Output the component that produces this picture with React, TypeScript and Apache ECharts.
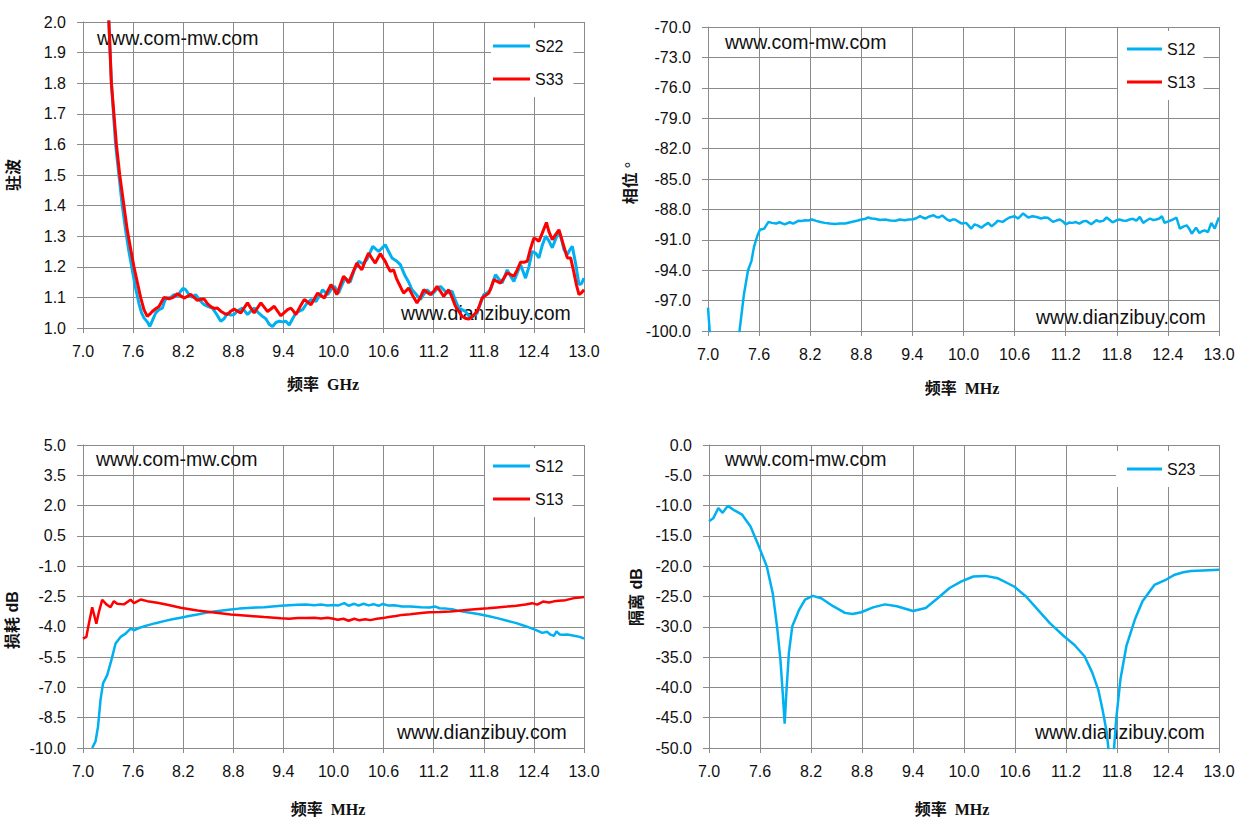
import { useEffect, useRef } from "react";
import * as echarts from "echarts";

// ---- data: [frequency, value] pairs ----
const vswrS22: [number, number][] = [
  [7.25, 2.3], [7.31, 2.0], [7.34, 1.8], [7.39, 1.6], [7.43, 1.5], [7.47, 1.4], [7.51, 1.32], [7.55, 1.25],
  [7.59, 1.19], [7.63, 1.13], [7.67, 1.08], [7.7, 1.05], [7.73, 1.033], [7.77, 1.02], [7.8, 1.005], [7.84, 1.03],
  [7.87, 1.049], [7.91, 1.06], [7.95, 1.065], [7.98, 1.09], [8.01, 1.098], [8.05, 1.1], [8.09, 1.109], [8.13, 1.105],
  [8.17, 1.12], [8.2, 1.13], [8.23, 1.125], [8.27, 1.109], [8.31, 1.1], [8.35, 1.109], [8.4, 1.09], [8.45, 1.076],
  [8.5, 1.07], [8.55, 1.065], [8.6, 1.045], [8.65, 1.022], [8.69, 1.03], [8.73, 1.049], [8.77, 1.042], [8.81, 1.044],
  [8.86, 1.058], [8.91, 1.065], [8.97, 1.044], [9.01, 1.055], [9.05, 1.065], [9.1, 1.05], [9.15, 1.038], [9.19, 1.03],
  [9.23, 1.012], [9.27, 1.005], [9.31, 1.018], [9.35, 1.022], [9.39, 1.02], [9.43, 1.022], [9.47, 1.01], [9.51, 1.03],
  [9.55, 1.049], [9.59, 1.055], [9.63, 1.06], [9.68, 1.08], [9.73, 1.093], [9.79, 1.087], [9.83, 1.105], [9.87, 1.125],
  [9.93, 1.109], [9.97, 1.125], [10.01, 1.136], [10.06, 1.114], [10.1, 1.14], [10.14, 1.163], [10.2, 1.15], [10.25, 1.19],
  [10.3, 1.218], [10.35, 1.21], [10.4, 1.223], [10.47, 1.267], [10.54, 1.25], [10.62, 1.272], [10.66, 1.25], [10.7, 1.229],
  [10.75, 1.22], [10.8, 1.207], [10.86, 1.169], [10.9, 1.15], [10.94, 1.125], [10.99, 1.11], [11.04, 1.093], [11.08, 1.11],
  [11.12, 1.125], [11.18, 1.109], [11.23, 1.125], [11.28, 1.136], [11.32, 1.125], [11.36, 1.114], [11.42, 1.12], [11.46, 1.09],
  [11.5, 1.065], [11.54, 1.06], [11.58, 1.054], [11.64, 1.033], [11.68, 1.04], [11.72, 1.049], [11.76, 1.08], [11.8, 1.109],
  [11.84, 1.115], [11.88, 1.125], [11.94, 1.174], [11.98, 1.16], [12.02, 1.147], [12.08, 1.19], [12.12, 1.17], [12.16, 1.152],
  [12.2, 1.18], [12.24, 1.207], [12.3, 1.163], [12.34, 1.2], [12.38, 1.25], [12.42, 1.245], [12.46, 1.229], [12.5, 1.27],
  [12.54, 1.3], [12.58, 1.285], [12.62, 1.262], [12.66, 1.29], [12.7, 1.316], [12.73, 1.29], [12.76, 1.256], [12.8, 1.24],
  [12.83, 1.255], [12.86, 1.267], [12.9, 1.21], [12.94, 1.142], [12.97, 1.145], [13.0, 1.163],
];

const vswrS33: [number, number][] = [
  [7.26, 2.3], [7.31, 2.0], [7.34, 1.8], [7.4, 1.6], [7.44, 1.5], [7.48, 1.42], [7.53, 1.32], [7.57, 1.26],
  [7.61, 1.2], [7.65, 1.15], [7.69, 1.1], [7.73, 1.06], [7.77, 1.038], [7.8, 1.045], [7.83, 1.054], [7.87, 1.063],
  [7.91, 1.07], [7.94, 1.085], [7.97, 1.1], [8.0, 1.098], [8.03, 1.095], [8.08, 1.1], [8.13, 1.112], [8.17, 1.105],
  [8.21, 1.098], [8.25, 1.103], [8.29, 1.11], [8.33, 1.1], [8.37, 1.09], [8.41, 1.094], [8.45, 1.095], [8.49, 1.08],
  [8.53, 1.07], [8.57, 1.064], [8.61, 1.065], [8.65, 1.055], [8.69, 1.048], [8.73, 1.044], [8.77, 1.055], [8.81, 1.062],
  [8.85, 1.055], [8.89, 1.049], [8.93, 1.066], [8.97, 1.082], [9.01, 1.065], [9.05, 1.049], [9.09, 1.066], [9.13, 1.082],
  [9.17, 1.068], [9.21, 1.054], [9.25, 1.062], [9.29, 1.071], [9.33, 1.055], [9.37, 1.04], [9.41, 1.05], [9.45, 1.06],
  [9.49, 1.065], [9.52, 1.055], [9.55, 1.044], [9.6, 1.07], [9.65, 1.093], [9.69, 1.085], [9.73, 1.076], [9.77, 1.095],
  [9.81, 1.114], [9.85, 1.106], [9.89, 1.098], [9.93, 1.12], [9.97, 1.142], [10.01, 1.125], [10.04, 1.109], [10.08, 1.14],
  [10.12, 1.169], [10.15, 1.16], [10.18, 1.147], [10.23, 1.18], [10.28, 1.212], [10.31, 1.2], [10.34, 1.19], [10.38, 1.22],
  [10.42, 1.245], [10.46, 1.228], [10.5, 1.212], [10.53, 1.228], [10.56, 1.243], [10.59, 1.23], [10.62, 1.218], [10.65, 1.2],
  [10.68, 1.185], [10.72, 1.19], [10.75, 1.165], [10.78, 1.147], [10.81, 1.13], [10.84, 1.114], [10.87, 1.122], [10.9, 1.131],
  [10.95, 1.105], [11.0, 1.082], [11.04, 1.1], [11.08, 1.125], [11.12, 1.117], [11.16, 1.109], [11.2, 1.12], [11.24, 1.136],
  [11.28, 1.12], [11.32, 1.103], [11.35, 1.115], [11.38, 1.125], [11.42, 1.1], [11.46, 1.071], [11.5, 1.055], [11.54, 1.038],
  [11.58, 1.032], [11.62, 1.029], [11.67, 1.04], [11.72, 1.054], [11.75, 1.075], [11.78, 1.098], [11.82, 1.106], [11.86, 1.114],
  [11.89, 1.135], [11.92, 1.158], [11.96, 1.152], [12.0, 1.147], [12.04, 1.163], [12.08, 1.18], [12.12, 1.175], [12.16, 1.169],
  [12.2, 1.19], [12.24, 1.215], [12.28, 1.215], [12.32, 1.218], [12.36, 1.26], [12.4, 1.294], [12.43, 1.29], [12.46, 1.283],
  [12.5, 1.31], [12.55, 1.345], [12.58, 1.315], [12.62, 1.289], [12.66, 1.305], [12.7, 1.321], [12.75, 1.275], [12.8, 1.229],
  [12.84, 1.229], [12.88, 1.18], [12.91, 1.14], [12.94, 1.109], [12.97, 1.115], [13.0, 1.125],
];

const phaseS12: [number, number][] = [
  [7.0, -97.7], [7.02, -100], [7.03, -104], [7.34, -104], [7.37, -100], [7.42, -96.5], [7.47, -94.0], [7.51, -93.1],
  [7.54, -91.7], [7.58, -90.6], [7.61, -90.0], [7.66, -89.9], [7.71, -89.23], [7.75, -89.33], [7.8, -89.4], [7.84, -89.27],
  [7.9, -89.47], [7.96, -89.27], [8.0, -89.4], [8.06, -89.13], [8.1, -89.15], [8.14, -89.07], [8.18, -89.1], [8.22, -89.0],
  [8.27, -89.13], [8.32, -89.25], [8.37, -89.33], [8.43, -89.4], [8.49, -89.43], [8.55, -89.38], [8.61, -89.4], [8.66, -89.3],
  [8.71, -89.2], [8.76, -89.1], [8.8, -89.0], [8.84, -88.95], [8.88, -88.8], [8.92, -88.9], [8.96, -88.93], [9.02, -89.05],
  [9.08, -89.0], [9.14, -89.1], [9.2, -89.13], [9.25, -89.0], [9.31, -89.07], [9.36, -89.0], [9.41, -88.97], [9.45, -88.85],
  [9.49, -88.67], [9.52, -88.8], [9.55, -88.9], [9.6, -88.7], [9.65, -88.57], [9.68, -88.75], [9.71, -88.8], [9.75, -88.6],
  [9.8, -88.95], [9.84, -89.13], [9.87, -89.0], [9.9, -89.0], [9.94, -89.2], [9.98, -89.4], [10.03, -89.33], [10.06, -89.6],
  [10.09, -89.9], [10.13, -89.47], [10.17, -89.6], [10.21, -89.8], [10.25, -89.55], [10.29, -89.33], [10.33, -89.67], [10.37, -89.4],
  [10.4, -89.13], [10.46, -89.23], [10.5, -89.0], [10.54, -88.8], [10.6, -88.67], [10.64, -88.9], [10.7, -88.4], [10.73, -88.6],
  [10.76, -88.8], [10.81, -88.67], [10.86, -88.75], [10.91, -88.9], [10.95, -88.8], [10.99, -88.83], [11.05, -89.23], [11.09, -89.1],
  [11.13, -89.0], [11.17, -89.2], [11.2, -89.47], [11.24, -89.3], [11.28, -89.33], [11.32, -89.25], [11.36, -89.4], [11.4, -89.2],
  [11.44, -89.13], [11.5, -89.47], [11.56, -89.07], [11.6, -89.2], [11.64, -89.13], [11.68, -88.8], [11.75, -89.27], [11.79, -89.1],
  [11.83, -89.0], [11.87, -89.1], [11.91, -89.13], [11.95, -89.0], [11.99, -88.93], [12.03, -89.1], [12.07, -88.73], [12.11, -89.33],
  [12.15, -89.1], [12.19, -88.9], [12.23, -89.05], [12.26, -89.0], [12.3, -88.9], [12.33, -88.67], [12.36, -89.33], [12.42, -89.13],
  [12.46, -89.0], [12.5, -88.8], [12.54, -89.9], [12.58, -89.7], [12.62, -89.57], [12.65, -89.9], [12.68, -90.4], [12.73, -89.8],
  [12.77, -90.33], [12.8, -90.15], [12.83, -90.07], [12.87, -90.23], [12.91, -89.33], [12.95, -89.9], [12.98, -89.2], [13.0, -88.8],
];

const phaseS13: [number, number][] = [];

const lossS12: [number, number][] = [
  [7.11, -10.0], [7.15, -9.67], [7.18, -8.94], [7.21, -7.62], [7.24, -6.8], [7.29, -6.39], [7.34, -5.65], [7.39, -4.83],
  [7.45, -4.5], [7.51, -4.34], [7.57, -4.09], [7.61, -4.17], [7.67, -4.06], [7.77, -3.93], [7.87, -3.82], [7.97, -3.72],
  [8.07, -3.63], [8.17, -3.55], [8.27, -3.47], [8.37, -3.39], [8.47, -3.31], [8.57, -3.24], [8.67, -3.19], [8.77, -3.14],
  [8.87, -3.1], [8.97, -3.07], [9.07, -3.05], [9.17, -3.03], [9.27, -2.99], [9.37, -2.96], [9.47, -2.93], [9.57, -2.91],
  [9.67, -2.9], [9.77, -2.93], [9.85, -2.9], [9.93, -2.94], [10.0, -2.92], [10.05, -2.95], [10.13, -2.83], [10.18, -2.96],
  [10.25, -2.86], [10.3, -2.95], [10.36, -2.86], [10.42, -2.94], [10.48, -2.88], [10.54, -2.96], [10.59, -2.87], [10.66, -2.95],
  [10.73, -2.93], [10.82, -2.99], [10.92, -3.0], [11.05, -3.03], [11.15, -3.04], [11.22, -3.0], [11.27, -3.08], [11.35, -3.1],
  [11.42, -3.13], [11.5, -3.21], [11.6, -3.28], [11.73, -3.37], [11.85, -3.47], [11.96, -3.57], [12.08, -3.7], [12.19, -3.82],
  [12.3, -3.97], [12.42, -4.15], [12.5, -4.3], [12.56, -4.25], [12.6, -4.39], [12.64, -4.45], [12.67, -4.23], [12.71, -4.38],
  [12.74, -4.39], [12.8, -4.38], [12.88, -4.44], [12.95, -4.5], [13.0, -4.59],
];

const lossS13: [number, number][] = [
  [7.0, -4.59], [7.04, -4.5], [7.07, -3.85], [7.11, -3.03], [7.16, -3.85], [7.19, -3.27], [7.23, -2.66], [7.28, -2.89],
  [7.33, -3.03], [7.37, -2.73], [7.41, -2.86], [7.49, -2.89], [7.57, -2.66], [7.61, -2.83], [7.69, -2.65], [7.77, -2.73],
  [7.89, -2.81], [8.01, -2.91], [8.17, -3.06], [8.37, -3.19], [8.57, -3.29], [8.77, -3.39], [8.97, -3.45], [9.17, -3.52],
  [9.37, -3.58], [9.47, -3.6], [9.57, -3.57], [9.67, -3.56], [9.77, -3.55], [9.85, -3.59], [9.93, -3.55], [10.0, -3.6],
  [10.05, -3.65], [10.12, -3.6], [10.18, -3.7], [10.25, -3.6], [10.31, -3.68], [10.38, -3.63], [10.44, -3.67], [10.52, -3.6],
  [10.59, -3.57], [10.66, -3.52], [10.75, -3.47], [10.82, -3.41], [10.92, -3.38], [11.05, -3.32], [11.15, -3.28], [11.27, -3.27],
  [11.4, -3.24], [11.5, -3.21], [11.62, -3.16], [11.73, -3.12], [11.85, -3.08], [11.96, -3.04], [12.08, -3.0], [12.19, -2.96],
  [12.3, -2.9], [12.38, -2.83], [12.44, -2.9], [12.51, -2.75], [12.58, -2.8], [12.64, -2.74], [12.7, -2.71], [12.78, -2.68],
  [12.88, -2.58], [12.95, -2.55], [13.0, -2.53],
];

const isoS23: [number, number][] = [
  [7.0, -12.6], [7.05, -12.1], [7.11, -10.4], [7.16, -11.2], [7.22, -10.05], [7.3, -10.8], [7.39, -11.5], [7.49, -13.5],
  [7.58, -16.5], [7.68, -20.05], [7.75, -24.45], [7.8, -29.9], [7.84, -35.4], [7.87, -41.5], [7.89, -46.0], [7.91, -40.9],
  [7.94, -34.3], [7.98, -29.9], [8.06, -27.2], [8.13, -25.5], [8.22, -24.9], [8.32, -25.3], [8.46, -26.6], [8.6, -27.7],
  [8.69, -27.9], [8.79, -27.6], [8.93, -26.8], [9.07, -26.3], [9.21, -26.6], [9.4, -27.4], [9.55, -26.9], [9.69, -25.3],
  [9.83, -23.6], [9.97, -22.5], [10.11, -21.7], [10.25, -21.6], [10.4, -22.0], [10.59, -23.35], [10.73, -25.0], [10.87, -27.2],
  [11.01, -29.4], [11.18, -31.6], [11.3, -33.0], [11.42, -34.9], [11.51, -37.6], [11.58, -40.4], [11.63, -43.7], [11.68, -47.5],
  [11.72, -53], [11.75, -53], [11.79, -45.3], [11.84, -38.7], [11.91, -33.2], [12.01, -28.8], [12.1, -25.8], [12.24, -23.1],
  [12.38, -22.2], [12.48, -21.4], [12.58, -21.0], [12.67, -20.8], [12.81, -20.7], [13.0, -20.6],
];

const GRID = "#8a8a8a";
const BLUE = "#00b0f0";
const RED = "#ff0000";
const FONT = "'Liberation Sans', Arial, sans-serif";
const TITLE_SERIF = "bold 16px 'Liberation Serif', 'Noto Sans CJK SC', serif";
const TITLE_SANS = "bold 16px 'Liberation Sans', 'Noto Sans CJK SC', sans-serif";

const grids = [
  { left: 83, top: 22, width: 501, height: 306 },
  { left: 708, top: 27, width: 511, height: 304 },
  { left: 83, top: 445, width: 501, height: 303 },
  { left: 709, top: 445, width: 510, height: 303 },
];

const yRanges = [
  { min: 1, max: 2, interval: 0.1 },
  { min: -100, max: -70, interval: 3 },
  { min: -10, max: 5, interval: 1.5 },
  { min: -50, max: 0, interval: 5 },
];

function xAxisFor(i: number) {
  return {
    type: "value",
    gridIndex: i,
    min: 7,
    max: 13,
    interval: 0.6,
    axisLine: { show: true, onZero: false, lineStyle: { color: GRID, width: 1 } },
    axisTick: { show: true, length: 5, lineStyle: { color: GRID } },
    axisLabel: {
      margin: 15,
      fontSize: 16,
      color: "#111",
      fontFamily: FONT,
      formatter: (v: number) => v.toFixed(1),
    },
    splitLine: { show: true, lineStyle: { color: GRID, width: 1 } },
  };
}

function yAxisFor(i: number) {
  return {
    type: "value",
    gridIndex: i,
    ...yRanges[i],
    axisLine: { show: true, onZero: false, lineStyle: { color: GRID, width: 1 } },
    axisTick: { show: true, length: 6, lineStyle: { color: GRID } },
    axisLabel: {
      margin: 17,
      fontSize: 16,
      color: "#111",
      fontFamily: FONT,
      formatter: (v: number) => v.toFixed(1),
    },
    splitLine: { show: true, lineStyle: { color: GRID, width: 1 } },
  };
}

function line(name: string, i: number, data: [number, number][], color: string, width: number) {
  return {
    name,
    type: "line",
    xAxisIndex: i,
    yAxisIndex: i,
    data,
    symbol: "none",
    showSymbol: false,
    clip: true,
    lineStyle: { color, width },
    itemStyle: { color },
  };
}

// legend: plain line icon like Excel
function legendAt(left: number, top: number, data: string[], itemWidth: number, padding: number[]) {
  return {
    orient: "vertical",
    left,
    top,
    data,
    icon: "rect",
    itemWidth,
    itemHeight: 3,
    itemGap: 17,
    padding,
    backgroundColor: "#fff",
    selectedMode: false,
    textStyle: { fontSize: 16, color: "#111", fontFamily: FONT },
  };
}

function label(text: string, x: number, y: number) {
  return {
    type: "text",
    x,
    y,
    z: 1,
    style: { text, fill: "#111", font: `19.5px ${FONT}`, align: "left", verticalAlign: "middle" },
  };
}

function title(text: string, x: number, y: number, font: string, vertical = false) {
  return {
    type: "text",
    x,
    y,
    rotation: vertical ? Math.PI / 2 : 0,
    style: { text, fill: "#111", font, align: "center", verticalAlign: "middle" },
  };
}

export default function App() {
  const rootRef = useRef<HTMLDivElement>(null);

  useEffect(() => {
    if (!rootRef.current) return;
    const chart = echarts.init(rootRef.current, undefined, {
      renderer: "svg",
      width: 1250,
      height: 830,
    });

    chart.setOption({
      animation: false,
      backgroundColor: "#fff",
      grid: grids,
      xAxis: [0, 1, 2, 3].map(xAxisFor),
      yAxis: [0, 1, 2, 3].map(yAxisFor),
      legend: [
        legendAt(491, 28, ["S22", "S33"], 37, [10, 10, 10, 2]),
        legendAt(1118, 31, ["S12", "S13"], 35, [10, 8, 10, 9]),
        legendAt(485, 448, ["S12", "S13"], 37, [10, 9, 10, 8]),
        legendAt(1116, 451, ["S23"], 35, [10, 4, 10, 11]),
      ],
      series: [
        line("S22", 0, vswrS22, BLUE, 3),
        line("S33", 0, vswrS33, RED, 3),
        line("S12", 1, phaseS12, BLUE, 2.5),
        line("S13", 1, phaseS13, RED, 2.5),
        line("S12", 2, lossS12, BLUE, 2.5),
        line("S13", 2, lossS13, RED, 2.5),
        line("S23", 3, isoS23, BLUE, 2.5),
      ],
      graphic: [
        label("www.com-mw.com", 97, 38),
        label("www.dianzibuy.com", 401, 313),
        label("www.com-mw.com", 725, 42),
        label("www.dianzibuy.com", 1036, 317),
        label("www.com-mw.com", 96, 459),
        label("www.dianzibuy.com", 397, 732),
        label("www.com-mw.com", 725, 459),
        label("www.dianzibuy.com", 1035, 732),
        title("驻波", 13, 175, TITLE_SERIF, true),
        title("频率  GHz", 323, 384, TITLE_SERIF),
        title("相位 °", 630, 183, TITLE_SERIF, true),
        title("频率  MHz", 962, 388, TITLE_SERIF),
        title("损耗 dB", 12, 620, TITLE_SANS, true),
        title("频率  MHz", 328, 809, TITLE_SERIF),
        title("隔离 dB", 636, 597, TITLE_SANS, true),
        title("频率  MHz", 952, 809, TITLE_SERIF),
      ],
    });

    return () => {
      chart.dispose();
    };
  }, []);

  return (
    <div
      ref={rootRef}
      style={{ position: "absolute", left: 0, top: 0, width: 1250, height: 830, background: "#fff" }}
    />
  );
}
